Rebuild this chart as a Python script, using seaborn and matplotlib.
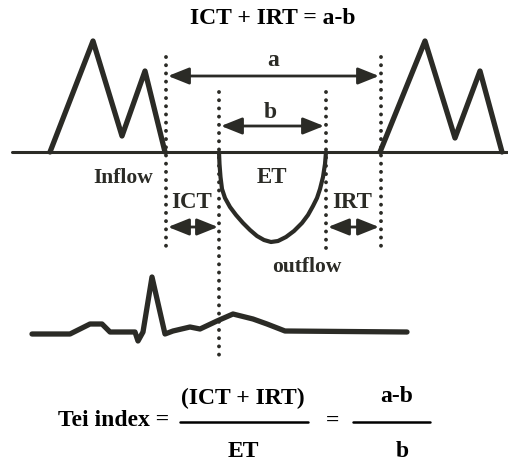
import numpy as np
import pandas as pd
import seaborn as sns
import matplotlib.pyplot as plt
from matplotlib.patches import FancyArrowPatch

# Diagram coordinates, read in image pixels (x to the right, y downward)
baseline_x = [12, 507]
baseline_y = [153, 153]

left_m_x = [50, 93, 122, 145, 165]
left_m_y = [153, 42, 137, 72, 153]
right_m_x = [380, 425, 455, 480, 502]
right_m_y = [153, 42, 139, 72, 153]

outflow_x = [219, 219.5, 220.5, 222, 225, 230, 236, 243, 250, 257, 264, 271,
             278, 286, 294, 302, 308, 313, 317, 320, 323, 325, 326]
outflow_y = [153, 165, 178, 190, 199, 208, 216, 224, 231, 237, 241, 243,
             242, 238, 232, 224, 216, 207, 199, 190, 178, 165, 153]

ecg_x = [32, 70, 80, 90, 102, 110, 135, 138, 143, 152, 165, 173, 190, 200, 217, 233, 253, 267, 285, 407]
ecg_y = [335, 335, 330, 325, 325, 333, 333, 342, 333, 278, 335, 332, 328, 330, 322, 315, 320, 325, 332, 333]

# dotted markers: x, top, bottom
dotted_x = [166, 381, 219, 326]
dotted_top = [58, 58, 93, 93]
dotted_bottom = [250, 250, 358, 255]

# double arrows: x0, x1, y
arrow_x0 = [168, 221, 168, 328]
arrow_x1 = [379, 324, 218, 379]
arrow_y = [77, 127, 228, 228]

sns.set_theme(style='white')
plt.rcParams['font.family'] = ['Liberation Serif', 'DejaVu Serif']

fig = plt.figure(figsize=(5.08, 4.64), dpi=100)
ax = fig.add_axes([0, 0, 1, 1])

ink = '#2b2b26'

def trace(xs, ys, lw):
    df = pd.DataFrame({'x': xs, 'y': ys})
    sns.lineplot(data=df, x='x', y='y', sort=False, estimator=None, ax=ax,
                 color=ink, linewidth=lw, solid_joinstyle='round', solid_capstyle='round')

trace(baseline_x, baseline_y, 2.2)
trace(left_m_x, left_m_y, 3.8)
trace(right_m_x, right_m_y, 3.8)
trace(outflow_x, outflow_y, 3.0)
trace(ecg_x, ecg_y, 3.8)
ax.set_xlim(0, 508)
ax.set_ylim(464, 0)
ax.axis('off')

for x, t, b in zip(dotted_x, dotted_top, dotted_bottom):
    ax.plot([x, x], [t, b], color=ink, linewidth=2.8, linestyle=(0, (0.01, 2.1)),
            dash_capstyle='round')

for x0, x1, y in zip(arrow_x0, arrow_x1, arrow_y):
    ax.add_patch(FancyArrowPatch((x0, y), (x1, y), arrowstyle='<|-|>,head_length=8,head_width=3.2',
                                 color=ink, linewidth=2.0, shrinkA=0, shrinkB=0, mutation_scale=1.6))

bold = dict(fontweight='bold', color='black', ha='center', va='center')
label = dict(bold, color=ink)
ax.text(273, 19, 'ICT + IRT = a-b', fontsize=17, **bold)
ax.text(273, 60, 'a', fontsize=17, **label)
ax.text(270, 113, 'b', fontsize=17, **label)
ax.text(123, 178, 'Inflow', fontsize=15.5, **label)
ax.text(272, 178, 'ET', fontsize=16.5, **label)
ax.text(192, 203, 'ICT', fontsize=16.5, **label)
ax.text(352, 203, 'IRT', fontsize=16.5, **label)
ax.text(307, 267, 'outflow', fontsize=15.5, **label)

ax.text(114, 421, 'Tei index =', fontsize=17, **bold)
ax.text(243, 398, '(ICT + IRT)', fontsize=17, **bold)
ax.plot([180, 308], [423, 423], color='black', linewidth=1.8)
ax.text(243, 452, 'ET', fontsize=17, **bold)
ax.text(333, 421, '=', fontsize=17, **bold)
ax.text(397, 397, 'a-b', fontsize=17, **bold)
ax.plot([353, 430], [423, 423], color='black', linewidth=1.8)
ax.text(402, 452, 'b', fontsize=17, **bold)

fig.savefig('out.png', dpi=100)
plt.close(fig)
